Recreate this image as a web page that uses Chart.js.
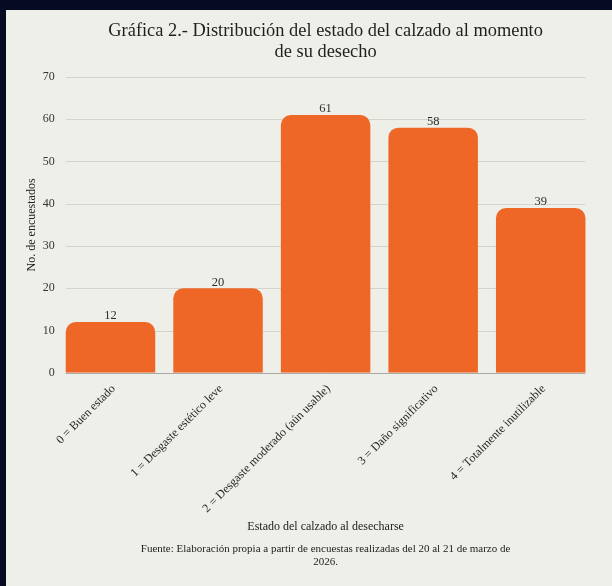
<!DOCTYPE html>
<html>
<head>
<meta charset="utf-8">
<script src="https://cdn.jsdelivr.net/npm/chart.js@4/dist/chart.umd.min.js"></script>
<style>
  html, body { margin: 0; padding: 0; background: #060a22; }
  #panel {
    position: absolute; left: 6px; top: 10px;
    width: 606px; height: 576px;
    background: #efefea;
  }
</style>
</head>
<body>
<div id="panel"><canvas id="myChart"></canvas></div>
<script>
// chart data
const categories = [
  "0 = Buen estado",
  "1 = Desgaste estético leve",
  "2 = Desgaste moderado (aún usable)",
  "3 = Daño significativo",
  "4 = Totalmente inutilizable",
];
const respondents = [12, 20, 61, 58, 39];
const yTicks = [0, 10, 20, 30, 40, 50, 60, 70];

const serif = "'Liberation Serif', 'Times New Roman', serif";
const barColor = "#ef6726";

// horizontal grid lines only span from first bar edge to last bar edge
const barGrid = {
  id: "barGrid",
  beforeDatasetsDraw(chart) {
    const ctx = chart.ctx;
    const meta = chart.getDatasetMeta(0);
    const first = meta.data[0];
    const last = meta.data[meta.data.length - 1];
    const x0 = first.x - first.width / 2;
    const x1 = last.x + last.width / 2;
    const y = chart.scales.y;
    ctx.save();
    ctx.lineWidth = 1;
    yTicks.forEach((v) => {
      const py = Math.round(y.getPixelForValue(v)) + 0.5;
      ctx.strokeStyle = v === 0 ? "#a9a9a5" : "#d4d4cf";
      ctx.beginPath();
      ctx.moveTo(x0, py);
      ctx.lineTo(x1, py);
      ctx.stroke();
    });
    ctx.restore();
  },
};

// value above each bar
const valueLabels = {
  id: "valueLabels",
  afterDatasetsDraw(chart) {
    const ctx = chart.ctx;
    const meta = chart.getDatasetMeta(0);
    ctx.save();
    ctx.font = "12.5px " + serif;
    ctx.fillStyle = "#2e2e2e";
    ctx.textAlign = "center";
    ctx.textBaseline = "middle";
    meta.data.forEach((bar, i) => {
      ctx.fillText(String(respondents[i]), bar.x, bar.y - 6);
    });
    ctx.restore();
  },
};

const ctx = document.getElementById("myChart");

new Chart(ctx, {
  type: "bar",
  data: {
    labels: categories,
    datasets: [
      {
        label: "No. de encuestados",
        data: respondents,
        backgroundColor: barColor,
        borderWidth: 0,
        borderRadius: { topLeft: 10, topRight: 10, bottomLeft: 0, bottomRight: 0 },
        borderSkipped: "start",
        barPercentage: 1,
        categoryPercentage: 0.832,
      },
    ],
  },
  options: {
    responsive: true,
    maintainAspectRatio: false,
    animation: false,
    layout: { padding: { left: 15, right: 17.5, top: 0, bottom: 0 } },
    plugins: {
      legend: { display: false },
      tooltip: { enabled: false },
      title: {
        display: true,
        fullSize: false,
        text: [
          "Gráfica 2.- Distribución del estado del calzado al momento",
          "de su desecho",
        ],
        color: "#1f1f1f",
        font: { family: serif, size: 18.4, weight: "normal", lineHeight: 1.14 },
        padding: { top: 11, bottom: 14 },
      },
      subtitle: {
        display: true,
        fullSize: false,
        position: "bottom",
        text: [
          "Fuente: Elaboración propia a partir de encuestas realizadas del 20 al 21 de marzo de",
          "2026.",
        ],
        color: "#222222",
        font: { family: serif, size: 11, weight: "normal", lineHeight: 1.18 },
        padding: { top: 5, bottom: 17 },
      },
    },
    scales: {
      x: {
        grid: { display: false, drawTicks: false },
        border: { display: false },
        ticks: {
          color: "#262626",
          font: { family: serif, size: 12 },
          minRotation: 45,
          maxRotation: 45,
          autoSkip: false,
          padding: 9,
          labelOffset: 3,
        },
        title: {
          display: true,
          text: "Estado del calzado al desecharse",
          color: "#222222",
          font: { family: serif, size: 12 },
          padding: { top: 4, bottom: 4 },
        },
        afterFit(scale) {
          scale.height = 165.2;
        },
      },
      y: {
        min: 0,
        max: 70,
        afterBuildTicks(scale) {
          scale.ticks = yTicks.map((v) => ({ value: v }));
        },
        grid: { display: false, drawTicks: false },
        border: { display: false },
        ticks: {
          color: "#333333",
          font: { family: serif, size: 12 },
          padding: 2,
        },
        title: {
          display: true,
          text: "No. de encuestados",
          color: "#222222",
          font: { family: serif, size: 12 },
          padding: { top: 4, bottom: 4 },
        },
        afterFit(scale) {
          scale.width = 35.7;
        },
      },
    },
  },
  plugins: [barGrid, valueLabels],
});
</script>
</body>
</html>
